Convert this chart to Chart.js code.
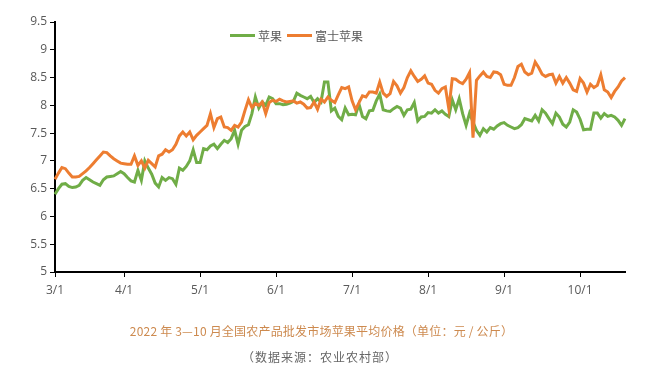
<!DOCTYPE html>
<html>
<head>
<meta charset="utf-8">
<script src="https://cdn.jsdelivr.net/npm/chart.js@4/dist/chart.umd.min.js"></script>
<style>
  html, body { margin: 0; padding: 0; background: #fff; }
  #wrap { position: relative; width: 649px; height: 378px; }
  #legend { position: absolute; left: 230px; top: 27px; display: flex; align-items: center;
            font: 12px "Noto Sans CJK SC", sans-serif; color: #595959; }
  #legend .item { display: flex; align-items: center; margin-right: 5px; }
  #legend .sw { width: 25px; height: 3px; margin-right: 3px; }
  #title { position: absolute; left: 0; width: 649px; top: 322px; text-align: center; padding-right: 6px; box-sizing: border-box;
           font: 12px "Noto Sans CJK SC", sans-serif; color: #cd8a4f; letter-spacing: 0.2px; }
  #sub { position: absolute; left: 0; width: 649px; top: 348px; text-align: center; padding-right: 9px; box-sizing: border-box;
         font: 12px "Noto Sans CJK SC", sans-serif; color: #666; letter-spacing: 1px; }
</style>
</head>
<body>
<div id="wrap">
  <canvas id="c" width="649" height="378"></canvas>
  <div id="legend"></div>
  <div id="title"></div>
  <div id="sub"></div>
</div>
<script>
const seriesNames = ['苹果', '富士苹果'];
const seriesColors = ['#70ad47', '#ed7d31'];
const tickLabels = ['3/1', '4/1', '5/1', '6/1', '7/1', '8/1', '9/1', '10/1'];
const tickIndex = [0, 20, 42, 64, 86, 108, 130, 152];
const yTicks = [5, 5.5, 6, 6.5, 7, 7.5, 8, 8.5, 9, 9.5];
const titleText = '2022 年 3—10 月全国农产品批发市场苹果平均价格（单位：元 / 公斤）';
const subText = '（数据来源：农业农村部）';

const apple = [
  6.40,6.50,6.58,6.59,6.54,6.52,6.53,6.56,6.65,6.70,
  6.66,6.62,6.59,6.56,6.66,6.71,6.72,6.73,6.77,6.81,
  6.77,6.70,6.64,6.62,6.83,6.65,7.00,6.87,6.76,6.60,
  6.53,6.70,6.65,6.70,6.68,6.58,6.87,6.83,6.90,7.00,
  7.20,6.97,6.97,7.22,7.20,7.27,7.30,7.22,7.30,7.37,
  7.33,7.40,7.55,7.30,7.55,7.62,7.65,7.85,8.15,7.95,
  8.06,8.00,8.15,8.12,8.03,8.03,8.01,8.02,8.04,8.07,
  8.22,8.18,8.15,8.12,8.16,8.05,8.12,8.06,8.42,8.42,
  7.90,7.95,7.80,7.74,7.95,7.83,7.84,7.83,8.02,7.80,
  7.76,7.90,7.91,8.08,8.20,7.92,7.90,7.89,7.94,7.98,
  7.95,7.82,7.92,7.93,8.05,7.72,7.79,7.80,7.87,7.86,
  7.92,7.86,7.90,7.84,7.80,8.10,7.92,8.12,7.85,7.64,
  7.86,7.70,7.55,7.46,7.58,7.52,7.60,7.57,7.63,7.67,
  7.69,7.64,7.61,7.58,7.60,7.65,7.76,7.74,7.72,7.82,
  7.72,7.92,7.86,7.76,7.67,7.86,7.79,7.66,7.61,7.70,
  7.92,7.88,7.75,7.56,7.57,7.57,7.86,7.86,7.77,7.85,
  7.80,7.82,7.79,7.73,7.64,7.76
];
const fuji = [
  6.67,6.78,6.88,6.86,6.78,6.71,6.71,6.72,6.77,6.82,
  6.88,6.95,7.02,7.09,7.16,7.15,7.09,7.04,7.00,6.96,
  6.95,6.94,6.94,7.09,6.92,7.00,6.87,7.01,6.95,6.89,
  7.09,7.12,7.20,7.16,7.20,7.30,7.45,7.52,7.45,7.52,
  7.38,7.46,7.52,7.58,7.64,7.85,7.60,7.76,7.79,7.61,
  7.60,7.55,7.64,7.61,7.70,7.91,8.10,7.96,8.03,8.00,
  8.06,7.85,8.05,8.09,8.07,8.11,8.08,8.06,8.07,8.08,
  8.04,8.06,8.02,7.95,7.96,8.06,7.93,8.11,8.06,8.15,
  8.09,8.05,8.19,8.32,8.30,8.33,8.08,7.92,8.05,8.17,
  8.15,8.24,8.24,8.22,8.42,8.22,8.16,8.21,8.43,8.35,
  8.22,8.32,8.50,8.62,8.52,8.43,8.47,8.53,8.40,8.38,
  8.27,8.22,8.30,8.33,7.94,8.48,8.47,8.42,8.39,8.47,
  8.59,7.42,8.45,8.53,8.60,8.52,8.50,8.60,8.59,8.55,
  8.38,8.36,8.36,8.50,8.70,8.74,8.60,8.55,8.58,8.78,
  8.68,8.56,8.52,8.55,8.56,8.40,8.52,8.40,8.50,8.40,
  8.28,8.25,8.48,8.40,8.24,8.38,8.32,8.36,8.55,8.28,
  8.24,8.14,8.25,8.33,8.44,8.50
];

const categories = apple.map((_, i) => {
  const k = tickIndex.indexOf(i);
  return k >= 0 ? tickLabels[k] : '';
});

// HTML legend and titles (real text)
const lg = document.getElementById('legend');
seriesNames.forEach((n, i) => {
  const it = document.createElement('div'); it.className = 'item';
  const sw = document.createElement('div'); sw.className = 'sw'; sw.style.background = seriesColors[i];
  const tx = document.createElement('span'); tx.textContent = n;
  it.appendChild(sw); it.appendChild(tx); lg.appendChild(it);
});
document.getElementById('title').textContent = titleText;
document.getElementById('sub').textContent = subText;

const tickFont = { family: "'Open Sans', 'Noto Sans', sans-serif", size: 12 };

new Chart(document.getElementById('c'), {
  type: 'line',
  data: {
    labels: categories,
    datasets: [
      { label: seriesNames[0], data: apple, borderColor: seriesColors[0], backgroundColor: seriesColors[0],
        borderWidth: 3, pointRadius: 0, tension: 0, order: 1 },
      { label: seriesNames[1], data: fuji, borderColor: seriesColors[1], backgroundColor: seriesColors[1],
        borderWidth: 3, pointRadius: 0, tension: 0, order: 0 }
    ]
  },
  options: {
    responsive: false,
    animation: false,
    devicePixelRatio: 1,
    layout: { padding: { left: 0, right: 24, top: 22, bottom: 76 } },
    plugins: { legend: { display: false }, tooltip: { enabled: false }, title: { display: false } },
    scales: {
      x: {
        type: 'category',
        offset: false,
        afterFit: s => { s.height = 30; },
        afterBuildTicks: s => { s.ticks = tickIndex.map(v => ({ value: v })); },
        grid: { display: true, drawOnChartArea: false, drawTicks: true, tickLength: 5, color: '#000', lineWidth: 1 },
        border: { display: true, color: '#000', width: 2 },
        ticks: {
          autoSkip: false, maxRotation: 0, minRotation: 0, padding: 6,
          color: '#595959', font: tickFont,
          callback: function(v) { return categories[v]; }
        }
      },
      y: {
        min: 5, max: 9.5,
        afterFit: s => { s.width = 55; },
        afterBuildTicks: s => { s.ticks = yTicks.map(v => ({ value: v })); },
        grid: { display: true, drawOnChartArea: false, drawTicks: true, tickLength: 5, color: '#000', lineWidth: 1 },
        border: { display: true, color: '#000', width: 2 },
        ticks: { padding: 3, color: '#595959', font: tickFont, callback: v => String(v) }
      }
    }
  }
});
</script>
</body>
</html>
